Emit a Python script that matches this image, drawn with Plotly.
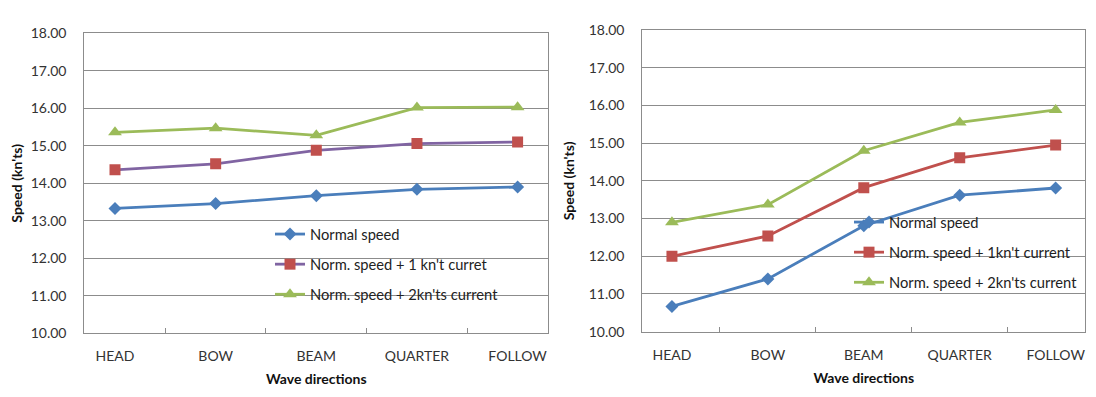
import plotly.graph_objects as go

# Wave direction categories shared by both panels
directions = ["HEAD", "BOW", "BEAM", "QUARTER", "FOLLOW"]

# Left panel speeds (kn'ts)
left_normal = [13.33, 13.46, 13.67, 13.84, 13.90]
left_one_knot = [14.36, 14.52, 14.88, 15.06, 15.10]
left_two_knots = [15.36, 15.47, 15.28, 16.02, 16.03]
left_names = ["Normal speed", "Norm. speed + 1 kn't curret", "Norm. speed + 2kn'ts current"]

# Right panel speeds (kn'ts)
right_normal = [10.67, 11.40, 12.81, 13.62, 13.81]
right_one_knot = [12.00, 12.54, 13.82, 14.61, 14.95]
right_two_knots = [12.90, 13.37, 14.80, 15.55, 15.88]
right_names = ["Normal speed", "Norm. speed + 1kn't current", "Norm. speed + 2kn'ts current"]

y_ticks = [10, 11, 12, 13, 14, 15, 16, 17, 18]

W, H = 1096, 397
FONT = "Lato"
BLUE = "#4A7EBB"
RED = "#C0504D"
PURPLE = "#8064A2"
GREEN = "#9BBB59"
GRID = "#8C8C8C"


def px_x(v):
    return v / W


def px_y(v):
    return 1 - v / H


fig = go.Figure()

styles = [
    dict(marker=BLUE, symbol="diamond", size=10),
    dict(marker=RED, symbol="square", size=11),
    dict(marker=GREEN, symbol="triangle-up", size=12),
]


def add_panel(series, names, xa, ya, legend, line_colors):
    for i, (vals, name) in enumerate(zip(series, names)):
        st = styles[i]
        fig.add_trace(go.Scatter(
            x=directions, y=vals, name=name,
            mode="lines+markers",
            xaxis=xa, yaxis=ya, legend=legend,
            legendgroup=f"{legend}{i}",
            line=dict(color=line_colors[i], width=2.8),
            marker=dict(color=st["marker"], symbol=st["symbol"], size=st["size"],
                        line=dict(width=0)),
        ))


add_panel([left_normal, left_one_knot, left_two_knots], left_names, "x", "y", "legend",
          [BLUE, PURPLE, GREEN])
add_panel([right_normal, right_one_knot, right_two_knots], right_names, "x2", "y2", "legend2",
          [BLUE, RED, GREEN])

tick_font = dict(family=FONT, size=14, color="#333333")
title_font = dict(family=FONT, size=14, color="#111111", weight="bold")


def xaxis(domain, anchor):
    return dict(
        domain=domain, anchor=anchor, type="category", automargin=False,
        showgrid=False, showline=True, mirror=True, linecolor=GRID, linewidth=1,
        ticks="inside", ticklen=5, tickcolor=GRID, tickson="boundaries",
        tickfont=tick_font, ticklabelstandoff=10,
        title=dict(text="Wave directions", font=title_font, standoff=11),
        zeroline=False, fixedrange=True,
    )


def yaxis(domain, anchor, standoff):
    return dict(
        domain=domain, anchor=anchor, range=[10, 18], automargin=False,
        tickvals=y_ticks, tickformat=".2f",
        showgrid=True, gridcolor=GRID, gridwidth=1,
        showline=True, mirror=True, linecolor=GRID, linewidth=1,
        ticks="", tickfont=tick_font, ticklabelstandoff=14,
        title=dict(text="Speed (kn'ts)", font=title_font, standoff=standoff),
        zeroline=False, fixedrange=True,
    )


legend_common = dict(
    xanchor="left", yanchor="top", bgcolor="rgba(0,0,0,0)", borderwidth=0,
    font=dict(family=FONT, size=14.7, color="#222222"),
    tracegroupgap=8, traceorder="grouped",
)

fig.update_layout(
    width=W, height=H,
    margin=dict(l=0, r=0, t=0, b=0, autoexpand=False),
    paper_bgcolor="white", plot_bgcolor="white",
    showlegend=True,
    xaxis=xaxis([px_x(84.3), px_x(548.3)], "y"),
    yaxis=yaxis([px_y(333.3), px_y(33.3)], "x", 4),
    xaxis2=xaxis([px_x(642.3), px_x(1085.3)], "y2"),
    yaxis2=yaxis([px_y(331.7), px_y(30.0)], "x2", 10),
    legend=dict(x=px_x(270), y=px_y(218), **legend_common),
    legend2=dict(x=px_x(849), y=px_y(206), **legend_common),
)

fig.write_html("out.html")
